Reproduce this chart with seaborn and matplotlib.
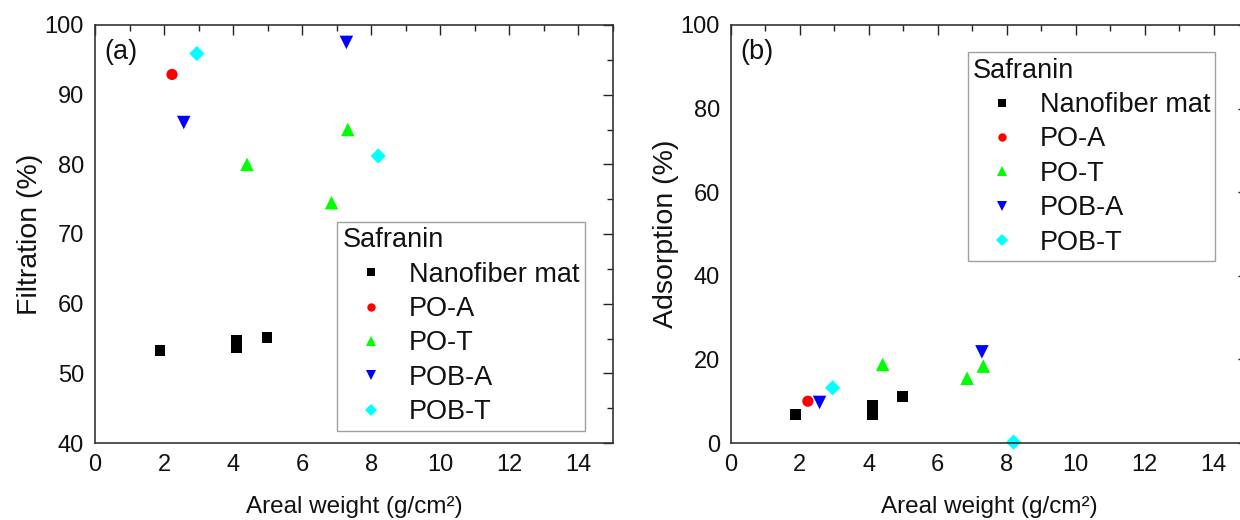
import matplotlib
matplotlib.use("Agg")
import matplotlib.pyplot as plt
import seaborn as sns
import pandas as pd
from matplotlib.ticker import MultipleLocator

samples = ["Nanofiber mat", "PO-A", "PO-T", "POB-A", "POB-T"]
colors = ["#000000", "#ff0000", "#00ff00", "#0000ff", "#00ffff"]
marker_list = ["s", "o", "^", "v", "D"]
marker_areas = [60, 65, 95, 95, 60]

nano_x = [1.88, 4.1, 4.1, 4.98]
nano_filt = [53.3, 54.7, 53.7, 55.1]
nano_ads = [6.8, 9.0, 6.8, 11.2]

poa_x = [2.23]
poa_filt = [92.9]
poa_ads = [10.0]

pot_x = [4.4, 6.85, 7.32]
pot_filt = [80.0, 74.5, 85.0]
pot_ads = [18.8, 15.5, 18.4]

poba_x = [2.57, 7.28]
poba_filt = [86.0, 97.5]
poba_ads = [9.7, 21.8]

pobt_x = [2.95, 8.2]
pobt_filt = [95.9, 81.2]
pobt_ads = [13.2, 0.2]

xs = [nano_x, poa_x, pot_x, poba_x, pobt_x]
filts = [nano_filt, poa_filt, pot_filt, poba_filt, pobt_filt]
adss = [nano_ads, poa_ads, pot_ads, poba_ads, pobt_ads]

rows = []
for name, x, f, a in zip(samples, xs, filts, adss):
    for xi, fi, ai in zip(x, f, a):
        rows.append({"Sample": name, "x": xi, "Filtration": fi, "Adsorption": ai})
df = pd.DataFrame(rows)

sns.set_theme(style="white")
plt.rcParams["font.family"] = ["Liberation Sans", "DejaVu Sans"]
plt.rcParams["text.color"] = "#111111"
plt.rcParams["axes.labelcolor"] = "#111111"
plt.rcParams["xtick.labelcolor"] = "#111111"
plt.rcParams["ytick.labelcolor"] = "#111111"

palette = dict(zip(samples, colors))
markers = dict(zip(samples, marker_list))
sizes = dict(zip(samples, marker_areas))

fig = plt.figure(figsize=(12.4, 5.2), dpi=100)
ax1 = fig.add_axes([95 / 1240, 77 / 520, 518 / 1240, 418 / 520])
ax2 = fig.add_axes([731 / 1240, 77 / 520, 517 / 1240, 418 / 520])

def style_axis(ax, ymin, ymax, ymajor, yminor, ylabel):
    ax.set_xlim(0, 15)
    ax.set_ylim(ymin, ymax)
    ax.xaxis.set_major_locator(MultipleLocator(2))
    ax.xaxis.set_minor_locator(MultipleLocator(1))
    ax.yaxis.set_major_locator(MultipleLocator(ymajor))
    ax.yaxis.set_minor_locator(MultipleLocator(yminor))
    ax.tick_params(which="both", direction="in", top=True, right=True,
                   color="#222222", width=1.0)
    ax.tick_params(which="major", length=7, labelsize=17, pad=8,
                   labelcolor="#111111")
    ax.tick_params(which="minor", length=4)
    for sp in ax.spines.values():
        sp.set_color("#333333")
        sp.set_linewidth(1.2)
    ax.set_xlabel("Areal weight (g/cm²)", fontsize=17.5, labelpad=14)
    ax.set_ylabel(ylabel, fontsize=20.5, labelpad=1)

for ax, col, lab, panel, ylim, ymaj, ymin_, anchor in [
    (ax1, "Filtration", "Filtration (%)", "(a)", (40, 100), 10, 5, (0.467, 0.529)),
    (ax2, "Adsorption", "Adsorption (%)", "(b)", (0, 100), 20, 10, (0.458, 0.935)),
]:
    sns.scatterplot(data=df, x="x", y=col, hue="Sample", style="Sample",
                    size="Sample", sizes=sizes, size_order=samples,
                    palette=palette, markers=markers, hue_order=samples,
                    style_order=samples, linewidth=0, ax=ax, clip_on=False)
    style_axis(ax, ylim[0], ylim[1], ymaj, ymin_, lab)
    ax.text(0.019, 0.935, panel, transform=ax.transAxes, fontsize=19.5,
            ha="left", va="center")
    sns.move_legend(ax, "upper left", bbox_to_anchor=anchor, title="Safranin",
                    frameon=True, fancybox=False, edgecolor="#888888",
                    fontsize=19.5, title_fontsize=19.5, markerscale=0.75,
                    handlelength=2.1, handletextpad=0.35, labelspacing=0.31,
                    borderpad=0.2, borderaxespad=0)
    leg = ax.get_legend()
    leg._legend_box.align = "left"
    leg.get_frame().set_linewidth(1.0)
    for t in leg.get_texts():
        t.set_color("#111111")
    leg.get_title().set_color("#111111")

fig.savefig("out.png", dpi=100)
